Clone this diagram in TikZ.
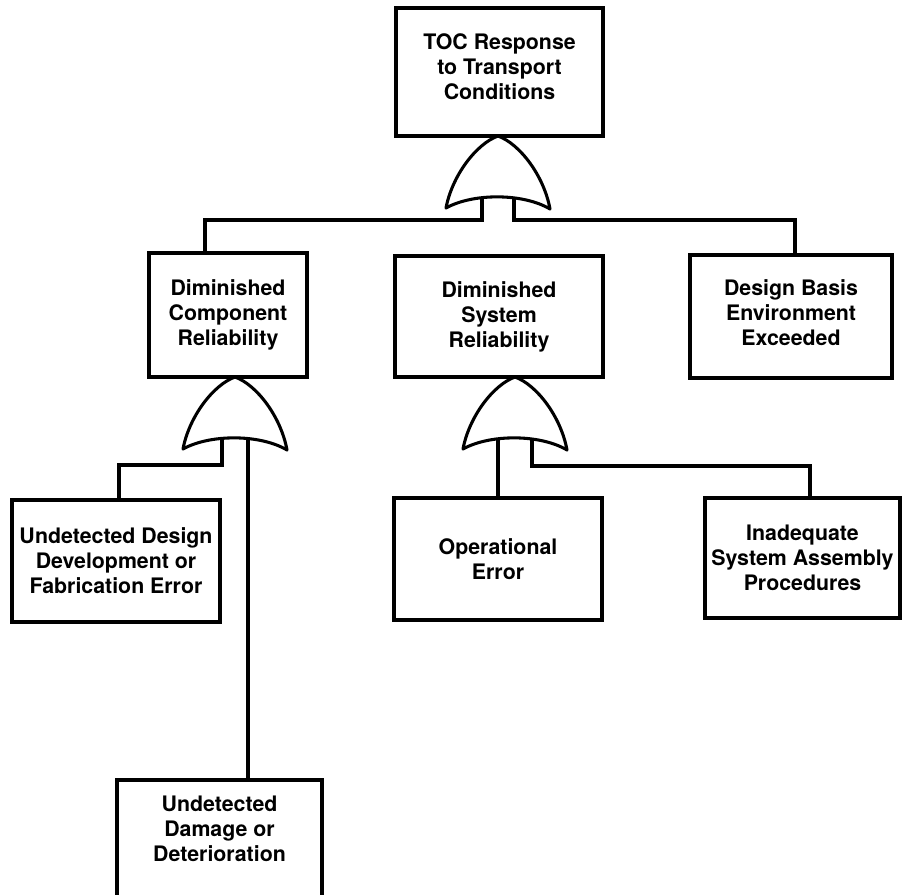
\documentclass[tikz,border=0pt]{standalone}
\usepackage{fontspec}
\setmainfont{TeX Gyre Heros}
\usepackage{tikz}
\newcommand{\ftor}[4]{%
  \draw[gateline] (#2,#3) .. controls ({#2-22},{#3+8}) and ({#2-46},{#3+40}) .. ({#2-52},{#3+72})
    .. controls ({#2-25},{#3+57}) and ({#2+25},{#3+57}) .. ({#2+52},{#3+73})
    .. controls ({#2+46},{#3+40}) and ({#2+22},{#3+8}) .. cycle;
  \coordinate (#1-l) at ({#2-#4},{#3+61});
  \coordinate (#1-r) at ({#2+#4},{#3+61});}

\begin{document}
\begin{tikzpicture}[x=0.75pt,y=-0.75pt,
  ev/.style={draw,line width=2.8pt,fill=white,align=center,inner sep=0pt,
    font=\bfseries\fontsize{16}{18.75}\selectfont},
  wire/.style={line width=2.8pt},
  gateline/.style={line width=2.3pt,fill=white,line join=round}]
  \useasboundingbox (0,0) rectangle (903,895);
  \clip (0,0) rectangle (903,895);

  \node[ev,minimum width=155.25pt,minimum height=96pt,text depth=8pt] (toc) at (499.5,72) {TOC Response\\to Transport\\Conditions};
  \node[ev,minimum width=118.5pt,minimum height=93pt] (comp) at (228,315) {Diminished\\Component\\Reliability};
  \node[ev,minimum width=156pt,minimum height=90.75pt] (sysrel) at (499,316.5) {Diminished\\System\\Reliability};
  \node[ev,minimum width=151.5pt,minimum height=92.25pt,text depth=6pt] (dbe) at (791,316.5) {Design Basis\\Environment\\Exceeded};
  \node[ev,minimum width=156pt,minimum height=91.5pt] (udd) at (116,561) {Undetected Design\\Development or\\Fabrication Error};
  \node[ev,minimum width=156pt,minimum height=91.5pt] (oper) at (498,559) {Operational\\Error};
  \node[ev,minimum width=146pt,minimum height=90pt] (inad) at (802.5,558) {Inadequate\\System Assembly\\Procedures};
  \node[ev,minimum width=153.75pt,minimum height=94.5pt,text depth=22pt] (udam) at (219.5,843) {Undetected\\Damage or\\Deterioration};

  \ftor{gtop}{498}{136}{16}
  \ftor{gcomp}{235}{377}{13}
  \ftor{gsys}{515}{377}{17}

  \coordinate (j1) at (205,220);
  \coordinate (j2) at (795,220);
  \coordinate (j3) at (119,465);
  \coordinate (j4) at (810,466);

  \draw[wire] (gtop-l) |- (j1) -- (j1 |- comp.north);
  \draw[wire] (gtop-r) |- (j2) -- (j2 |- dbe.north);
  \draw[wire] (gcomp-l) |- (j3) -- (j3 |- udd.north);
  \draw[wire] (gcomp-r) -- (gcomp-r |- udam.north);
  \draw[wire] (gsys-l) -- (gsys-l |- oper.north);
  \draw[wire] (gsys-r) |- (j4) -- (j4 |- inad.north);
\end{tikzpicture}
\end{document}
